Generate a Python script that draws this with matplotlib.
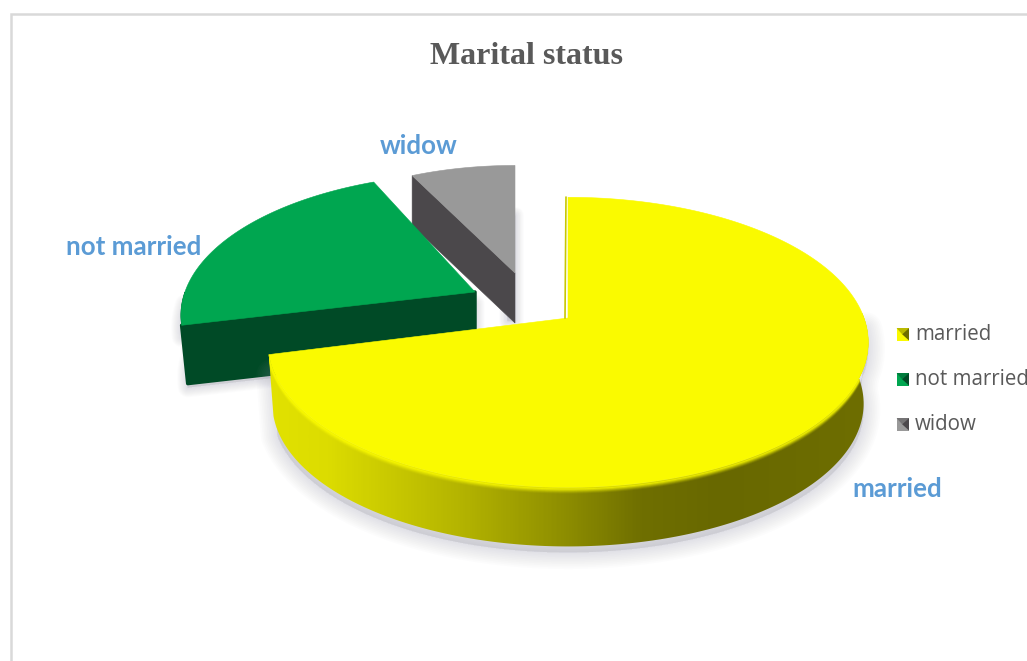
import numpy as np
import matplotlib
matplotlib.use("Agg")
import matplotlib.pyplot as plt
from matplotlib.colors import LinearSegmentedColormap
from matplotlib.patches import Polygon, Rectangle

categories = ["married", "not married", "widow"]
values = [71, 22, 7]
title = "Marital status"

colors_top = ["#fafa00", "#00a650", "#999999"]
colors_side = ["#8a8a00", "#004a26", "#4b484b"]
apex = [(568, 318), (475, 292), (515, 273)]
scale = [1.0, 0.98, 0.875]
depth = [62, 59, 50]
start_shift = [0.0, 1.0, -1.5]
end_shift = [0.0, 1.5, 0.0]
label_pos = [(897, 489), (134, 247), (419, 146)]
legend_y = [334.5, 379.5, 424.5]

W, H = 1027, 661
RX, RY, K = 296, 141, 0.168

fig = plt.figure(figsize=(W / 100, H / 100), dpi=100)
ax = fig.add_axes([0, 0, 1, 1])
ax.set_xlim(0, W)
ax.set_ylim(H, 0)
ax.axis("off")

# chart frame (no right or bottom edge is visible in the crop)
ax.plot([11, 11, W], [H, 13.5, 13.5], color="#d9d9d9", lw=1.8, zorder=1, solid_joinstyle="miter")


def project(theta, i, taper=1.0, dz=0.0):
    """theta: degrees clockwise from 12 o'clock."""
    t = np.radians(theta)
    s = scale[i] * taper
    yy = s * np.cos(t)
    xx = s * np.sin(t)
    w = 1 + K * yy
    return apex[i][0] + RX * xx / w, apex[i][1] - RY * yy / w + dz


bounds = np.concatenate([[0], np.cumsum(values)]) / np.sum(values) * 360


def arc(i, a, b, n=160, **kw):
    return project(np.linspace(a, b, n), i, **kw)


def shadow(px, py, zorder, off=5, widest=22):
    pts = np.column_stack([px, py + off])
    col = (0.60, 0.60, 0.68)
    for lw in np.linspace(widest, 2, 10):
        ax.add_patch(Polygon(pts, closed=True, fc=col + (0.028,), ec=col + (0.028,),
                             lw=lw, joinstyle="round", zorder=zorder))


side_stops = [(0.00, "#e2e200"), (0.10, "#dcdc00"), (0.32, "#b4b400"), (0.50, "#8c8c00"),
              (0.62, "#6f6f00"), (0.75, "#686800"), (1.00, "#6e6e00")]
side_cmap = LinearSegmentedColormap.from_list("side", side_stops)

# ---- widow (back) ----
i = 2
a, b = bounds[2] + start_shift[i], bounds[3] + end_shift[i]
ax_, ay_ = arc(i, a, b)
cx, cy = apex[i]
sx, sy = project(a, i)
shadow(np.array([cx - 8, cx, cx, cx - 8]), np.array([cy - 60, cy - 60, cy + depth[i] - 4, cy + depth[i] - 4]),
       3, off=2, widest=12)
ax.add_patch(Polygon([(sx, sy), (cx, cy), (cx, cy + depth[i]), (sx, sy + depth[i])],
                     fc=colors_side[i], ec=colors_side[i], lw=0.4, zorder=4))
ax.add_patch(Polygon(np.column_stack([np.r_[cx, ax_], np.r_[cy, ay_]]),
                     fc=colors_top[i], ec=colors_top[i], lw=0.4, zorder=5))

# ---- not married ----
i = 1
a, b = bounds[1] + start_shift[i], bounds[2] + end_shift[i]
ax_, ay_ = arc(i, a, b)
cx, cy = apex[i]
d = depth[i]
rx1, ry1 = arc(i, a, 270, n=30)
rx2, ry2 = arc(i, 270, a, n=30, taper=0.98, dz=d)
sx, sy = project(a, i)
bx, by = project(a, i, taper=0.98, dz=d)
shadow(np.r_[rx1, rx2, cx, cx], np.r_[ry1 + 8, ry2, cy + d, cy + 8], 6, off=4, widest=14)
ax.add_patch(Polygon(np.column_stack([np.r_[rx1, rx2], np.r_[ry1, ry2]]),
                     fc=colors_side[i], ec=colors_side[i], lw=0.4, zorder=7))
ax.add_patch(Polygon([(sx, sy), (cx, cy), (cx, cy + d), (bx, by)],
                     fc=colors_side[i], ec=colors_side[i], lw=2.5, joinstyle="round", zorder=7))
ax.add_patch(Polygon(np.column_stack([np.r_[cx, ax_], np.r_[cy, ay_]]),
                     fc=colors_top[i], ec=colors_top[i], lw=0.4, zorder=8))

# ---- married (front) ----
i = 0
a, b = bounds[0], bounds[1]
ax_, ay_ = arc(i, a, b, n=360)
cx, cy = apex[i]
d = depth[i]
rx1, ry1 = arc(i, 88, b, n=240)
rx2, ry2 = arc(i, b, 88, n=240, taper=0.985, dz=d)
sx1, sy1 = arc(i, 92, 250, n=200)
sx2, sy2 = arc(i, 250, 92, n=200, taper=0.985, dz=d)
shadow(np.r_[sx1, sx2], np.r_[sy1, sy2], 9, off=6, widest=24)
side = Polygon(np.column_stack([np.r_[rx1, rx2], np.r_[ry1, ry2]]), fc="none", ec="none", zorder=10)
ax.add_patch(side)
xs = np.linspace(0, 1, 400).reshape(1, -1)
im = ax.imshow(xs, cmap=side_cmap, extent=(rx1.min() - 3, rx1.max() + 3, H, 0),
               aspect="auto", zorder=10, vmin=0, vmax=1)
im.set_clip_path(side)
ax.set_xlim(0, W)
ax.set_ylim(H, 0)
# soft bevel between top face and rim
for dy, al in [(1, 0.7), (2, 0.5), (3, 0.32), (4, 0.18), (5, 0.09)]:
    ax.plot(rx1, ry1 + dy, color=colors_top[i], alpha=al, lw=1.6, zorder=11, clip_path=side)
ax.add_patch(Polygon(np.column_stack([np.r_[cx, ax_], np.r_[cy, ay_]]),
                     fc=colors_top[i], ec=colors_top[i], lw=0.4, zorder=12))
ex, ey = project(0, i)
ax.plot([ex - 2, cx - 3], [ey, cy], color="#c8c800", lw=1.2, zorder=13)

# ---- data labels ----
for name, (x, y) in zip(categories, label_pos):
    ax.text(x, y, name, color="#5b9bd5", fontsize=18.6, fontweight="bold", family="Lato",
            ha="center", va="center", zorder=20)

# ---- title ----
ax.text(526, 56, title, color="#595959", fontsize=23, fontweight="bold",
        family="Liberation Serif", ha="center", va="center", zorder=20)

# ---- legend ----
swatch_dark = ["#6e6e00", "#004a26", "#4b484b"]
for name, y, top, dark in zip(categories, legend_y, colors_top, swatch_dark):
    x0, y0, sz = 896.5, y - 6.5, 12.5
    ax.add_patch(Rectangle((x0, y0), sz, sz, fc=top, ec="none", zorder=20))
    ax.add_patch(Polygon([(x0 + sz, y0), (x0 + sz, y0 + sz), (x0 + sz * 0.45, y0 + sz * 0.5)],
                         fc=dark, ec="none", zorder=21))
    ax.add_patch(Polygon([(x0, y0), (x0 + sz, y0), (x0 + sz * 0.45, y0 + sz * 0.5)],
                         fc=dark, alpha=0.45, ec="none", zorder=21))
    ax.text(915, y, name, color="#595959", fontsize=14.8, family="Open Sans",
            ha="left", va="center", zorder=20, clip_on=True)

fig.savefig("out.png", dpi=100, facecolor="white")
